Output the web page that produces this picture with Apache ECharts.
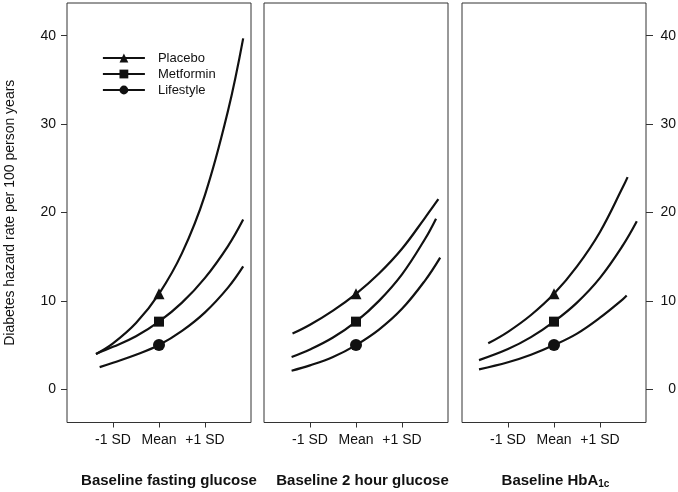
<!DOCTYPE html>
<html>
<head>
<meta charset="utf-8">
<script src="https://cdn.jsdelivr.net/npm/echarts@6/dist/echarts.min.js"></script>
<style>html,body{margin:0;padding:0;background:#fff;}#c{width:678px;height:492px;}</style>
</head>
<body>
<div id="c"></div>
<script>
// Panel 1: baseline fasting glucose
const fgPlaceboX = [-1.37, -1, -0.5, 0, 0.5, 1, 1.5, 1.83];
const fgPlaceboY = [4.0, 5.2, 7.5, 10.8, 15.4, 22.0, 31.5, 39.7];
const fgMetforminX = [-1.37, -1, -0.5, 0, 0.5, 1, 1.5, 1.83];
const fgMetforminY = [4.0, 4.8, 6.0, 7.65, 9.8, 12.6, 16.2, 19.2];
const fgLifestyleX = [-1.29, -1, -0.5, 0, 0.5, 1, 1.5, 1.83];
const fgLifestyleY = [2.5, 3.0, 3.9, 5.0, 6.6, 8.7, 11.5, 13.9];
// Panel 2: baseline 2 hour glucose
const tgPlaceboX = [-1.38, -1, -0.5, 0, 0.5, 1, 1.5, 1.79];
const tgPlaceboY = [6.3, 7.3, 8.9, 10.8, 13.1, 15.9, 19.4, 21.5];
const tgMetforminX = [-1.4, -1, -0.5, 0, 0.5, 1, 1.5, 1.74];
const tgMetforminY = [3.65, 4.5, 5.85, 7.65, 10.0, 13.0, 17.0, 19.3];
const tgLifestyleX = [-1.4, -1, -0.5, 0, 0.5, 1, 1.5, 1.83];
const tgLifestyleY = [2.1, 2.7, 3.65, 5.0, 6.75, 9.1, 12.3, 14.9];
// Panel 3: baseline HbA1c
const hbPlaceboX = [-1.43, -1, -0.5, 0, 0.5, 1, 1.5, 1.6];
const hbPlaceboY = [5.2, 6.5, 8.4, 10.8, 13.9, 17.8, 22.9, 24.0];
const hbMetforminX = [-1.63, -1, -0.5, 0, 0.5, 1, 1.5, 1.8];
const hbMetforminY = [3.3, 4.55, 5.9, 7.65, 9.8, 12.6, 16.3, 19.0];
const hbLifestyleX = [-1.63, -1, -0.5, 0, 0.5, 1, 1.5, 1.58];
const hbLifestyleY = [2.25, 3.05, 3.9, 5.0, 6.3, 8.1, 10.2, 10.6];

const seriesNames = ['Placebo', 'Metformin', 'Lifestyle'];
const xTickValues = [-1, 0, 1];
const xTickLabels = ['-1 SD', 'Mean', '+1 SD'];
const yTickValues = [0, 10, 20, 30, 40];
const panelTitles = ['Baseline fasting glucose', 'Baseline 2 hour glucose', 'Baseline HbA{s|1c}'];
const yTitle = 'Diabetes hazard rate per 100 person years';

const FONT = '"Liberation Sans", Arial, Helvetica, sans-serif';
const INK = '#111';
const symbols = ['triangle', 'rect', 'circle'];
const symbolSizes = [11, 10, 12];

const panels = [
  [[fgPlaceboX, fgPlaceboY], [fgMetforminX, fgMetforminY], [fgLifestyleX, fgLifestyleY]],
  [[tgPlaceboX, tgPlaceboY], [tgMetforminX, tgMetforminY], [tgLifestyleX, tgLifestyleY]],
  [[hbPlaceboX, hbPlaceboY], [hbMetforminX, hbMetforminY], [hbLifestyleX, hbLifestyleY]]
];

const gridLefts = [67, 264, 462];
const titlePad = [20, 13, 3];

const grids = gridLefts.map(l => ({
  left: l, top: 3, width: 184, height: 419.5,
  containLabel: false, outerBoundsMode: 'none',
  show: true, borderColor: '#333', borderWidth: 1, backgroundColor: 'transparent'
}));

const xAxes = gridLefts.map((l, i) => ({
  type: 'value', gridIndex: i, min: -2, max: 2, position: 'bottom',
  axisLine: { show: false, onZero: false },
  splitLine: { show: false },
  axisTick: { show: true, customValues: xTickValues, length: 5, lineStyle: { color: '#333' } },
  axisLabel: {
    show: true, customValues: xTickValues, margin: 11,
    fontFamily: FONT, fontSize: 14, color: INK,
    formatter: v => xTickLabels[xTickValues.indexOf(v)]
  },
  name: panelTitles[i], nameLocation: 'middle', nameGap: 49,
  nameTextStyle: {
    fontFamily: FONT, fontSize: 15, fontWeight: 'bold', color: INK,
    padding: [0, 0, 0, titlePad[i]], lineHeight: 18,
    rich: { s: { fontFamily: FONT, fontSize: 10, fontWeight: 'bold', color: INK, verticalAlign: 'bottom', lineHeight: 12 } }
  }
}));

const yAxes = gridLefts.map((l, i) => {
  const ax = {
    type: 'value', gridIndex: i, min: -3.76, max: 43.7,
    axisLine: { show: false, onZero: false },
    splitLine: { show: false },
    axisTick: { show: false },
    axisLabel: { show: false }
  };
  if (i === 0) {
    ax.position = 'left';
    ax.axisTick = { show: true, customValues: yTickValues, length: 6, lineStyle: { color: '#333' } };
    ax.axisLabel = { show: true, customValues: yTickValues, margin: 11, fontFamily: FONT, fontSize: 14, color: INK };
    ax.name = yTitle;
    ax.nameLocation = 'middle';
    ax.nameGap = 50;
    ax.nameTextStyle = { fontFamily: FONT, fontSize: 14, color: INK };
  }
  if (i === 2) {
    ax.position = 'right';
    ax.axisTick = { show: true, customValues: yTickValues, length: 7, lineStyle: { color: '#333' } };
    ax.axisLabel = { show: true, customValues: yTickValues, margin: 30, align: 'right', fontFamily: FONT, fontSize: 14, color: INK };
  }
  return ax;
});

const series = [];
panels.forEach((curves, pi) => {
  curves.forEach((c, si) => {
    const xs = c[0], ys = c[1];
    series.push({
      name: seriesNames[si], type: 'line', xAxisIndex: pi, yAxisIndex: pi,
      smooth: 0.4,
      symbol: symbols[si], symbolSize: symbolSizes[si], showSymbol: true,
      lineStyle: { color: INK, width: 2.2 },
      itemStyle: { color: INK },
      emphasis: { disabled: true },
      z: 3,
      data: xs.map((x, k) => x === 0 ? [x, ys[k]] : { value: [x, ys[k]], symbol: 'none' })
    });
  });
});

const chart = echarts.init(document.getElementById('c'), null, { renderer: 'canvas' });
chart.setOption({
  animation: false,
  backgroundColor: '#fff',
  grid: grids,
  xAxis: xAxes,
  yAxis: yAxes,
  legend: {
    data: seriesNames,
    orient: 'vertical', left: 97, top: 46,
    itemWidth: 42, itemHeight: 11, itemGap: 2,
    selectedMode: false,
    textStyle: { fontFamily: FONT, fontSize: 13, color: INK, lineHeight: 14, padding: [0, 0, 0, 8] },
    lineStyle: { width: 1.8 }
  },
  series: series
});
</script>
</body>
</html>
